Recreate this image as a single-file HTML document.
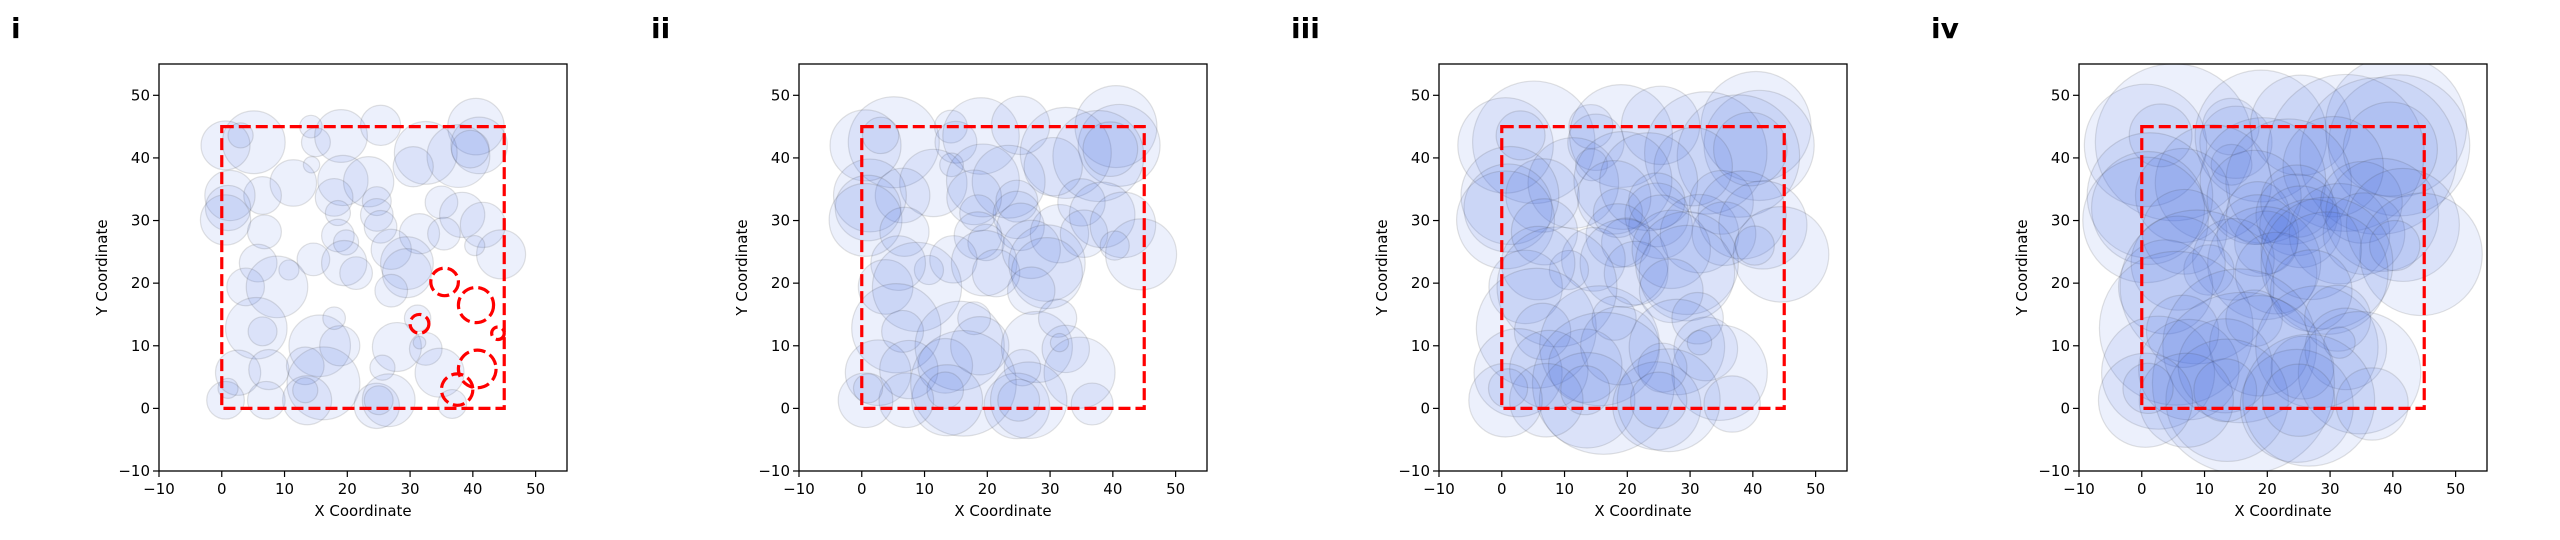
<!DOCTYPE html>
<html><head><meta charset="utf-8"><style>
html,body{margin:0;padding:0;background:#fff;}
svg{display:block;font-family:"DejaVu Sans","Liberation Sans",sans-serif;}
</style></head><body>
<svg id="fig" width="2560" height="540" viewBox="0 0 2560 540" xmlns="http://www.w3.org/2000/svg"></svg>
<script>
const panelLabels = ["i","ii","iii","iv"];
const xTicks = [-10,0,10,20,30,40,50];
const yTicks = [-10,0,10,20,30,40,50];
const centersX = [5.1,0.6,3,14.2,15,19,25.3,40.5,41,32.5,37.7,39.6,30.5,14.3,11.4,6.5,1.3,1.0,0.6,6.8,19.3,23.4,17.9,18.5,24.7,24.7,25.3,31.5,35,38.3,35.4,41.6,44.5,40.3,18.5,19.8,14.6,19.5,21.4,27,29.5,29.5,27,10.7,5.8,3.8,8.8,5.5,6.5,15.6,17.9,18.8,27.9,31.2,32.5,34.7,31.5,25.6,2.6,7.5,13.3,16.2,13.6,7.1,0.6,1,13.3,24.7,26.6,25,36.7];
const centersY = [42.5,42,43.6,45,42.5,43.5,45.2,45,42,40.8,40.3,41.4,38.6,38.9,36,34,34,32,30.1,28.2,36.4,36.2,33.7,31.2,33.1,30.9,29,27.9,32.9,30.9,27.9,29.3,24.6,26,27.6,26.5,23.8,23.2,21.6,25.4,23.2,21.6,18.8,22.1,23.2,19.4,19.4,12.8,12.3,10,14.4,10,9.8,14.4,9.5,5.7,10.5,6.5,5.7,6.2,6.8,4,1.3,1.3,1.3,3.2,2.9,0.4,1.3,1.3,0.7];
const radii = [5,3.9,2,1.8,2.3,4.2,3.2,4.5,4.5,5,5,3,3.2,1.3,3.7,3,4,3.6,4,2.7,4,4,3,2,2.3,2.6,2.6,3.2,2.6,3.6,2.6,3.6,3.9,1.6,2.6,2,2.6,3.6,2.6,3.2,4.2,3.9,2.6,1.6,3,3,4.9,4.9,2.3,4.9,1.8,3.2,3.9,2.1,2.6,3.9,1,2,3.6,3.2,3,5.8,3.9,3,3,1.6,2,3.6,4.2,2.3,2.3];
const radiusScale = [1,1.45,1.95,2.5];
const boxX = [0,45], boxY = [0,45];
// uncovered holes in panel i [x, y, r]
const holeX = [35.5,40.5,40.7,31.5,37.5,44];
const holeY = [20.2,16.5,6.3,13.5,3,12];
const holeR = [2.2,2.8,3,1.5,2.5,1];

const svg = document.getElementById('fig');
const NS = 'http://www.w3.org/2000/svg';
function mk(tag, attrs, parent){const e=document.createElementNS(NS,tag);for(const k in attrs)e.setAttribute(k,attrs[k]);(parent||svg).appendChild(e);return e;}

const AX_L=159, AX_W=408, AX_T=64, AX_H=407, PANEL_DX=640, DMIN=-10, DMAX=55;

panelLabels.forEach((lab,p)=>{
  const L = AX_L + p*PANEL_DX;
  const sx = v => L + (v-DMIN)/(DMAX-DMIN)*AX_W;
  const sy = v => AX_T + AX_H - (v-DMIN)/(DMAX-DMIN)*AX_H;
  const k = AX_W/(DMAX-DMIN);
  const g = mk('g',{});
  
  
  const t = mk('text',{x:L-148, y:38, 'font-size':28, 'font-weight':'bold', fill:'#000'}, g);
  t.textContent = lab;
  
  
  const cp = mk('clipPath',{id:'clip'+p}, g);
  mk('rect',{x:L,y:AX_T,width:AX_W,height:AX_H},cp);
  const cg = mk('g',{'clip-path':'url(#clip'+p+')'}, g);
  centersX.forEach((cx,i)=>{
    const c = mk('circle',{cx:sx(cx), cy:sy(centersY[i]), r:radii[i]*radiusScale[p]*k, fill:'rgba(65,105,225,0.1)', stroke:'rgba(60,60,60,0.15)', 'stroke-width':1.2}, cg);
    
    
  });
  const box = mk('rect',{x:sx(boxX[0]), y:sy(boxY[1]), width:sx(boxX[1])-sx(boxX[0]), height:sy(boxY[0])-sy(boxY[1]), fill:'none', stroke:'#ff0000', 'stroke-width':3.2, 'stroke-dasharray':'12 5'}, cg);
  
  
  if(p===0){
    holeX.forEach((hx,i)=>{
      const h = mk('circle',{cx:sx(hx), cy:sy(holeY[i]), r:holeR[i]*k, fill:'none', stroke:'#ff0000','stroke-width':3.2,'stroke-dasharray':'12 5'}, cg);
      
      
    });
  }
  const frame = mk('rect',{x:L,y:AX_T,width:AX_W,height:AX_H,fill:'none',stroke:'#000','stroke-width':1.3}, g);
  
  
  xTicks.forEach(v=>{
    mk('line',{x1:sx(v),x2:sx(v),y1:AX_T+AX_H,y2:AX_T+AX_H+6,stroke:'#000','stroke-width':1.2},g);
    const tt = mk('text',{x:sx(v),y:AX_T+AX_H+23,'font-size':15,'text-anchor':'middle',fill:'#000'},g);
    tt.textContent = v<0 ? '\u2212'+Math.abs(v) : v;
    
    
  });
  yTicks.forEach(v=>{
    mk('line',{x1:L-6,x2:L,y1:sy(v),y2:sy(v),stroke:'#000','stroke-width':1.2},g);
    const tt = mk('text',{x:L-9,y:sy(v)+5,'font-size':15,'text-anchor':'end',fill:'#000'},g);
    tt.textContent = v<0 ? '\u2212'+Math.abs(v) : v;
    
    
  });
  const xl = mk('text',{x:L+AX_W/2,y:AX_T+AX_H+45,'font-size':15,'text-anchor':'middle',fill:'#000'},g);
  xl.textContent='X Coordinate';
  
  
  const yl = mk('text',{x:0,y:0,'font-size':15,'text-anchor':'middle',fill:'#000',transform:'translate('+(L-52)+','+(AX_T+AX_H/2)+') rotate(-90)'},g);
  yl.textContent='Y Coordinate';
  
  
});
</script>
</body></html>
